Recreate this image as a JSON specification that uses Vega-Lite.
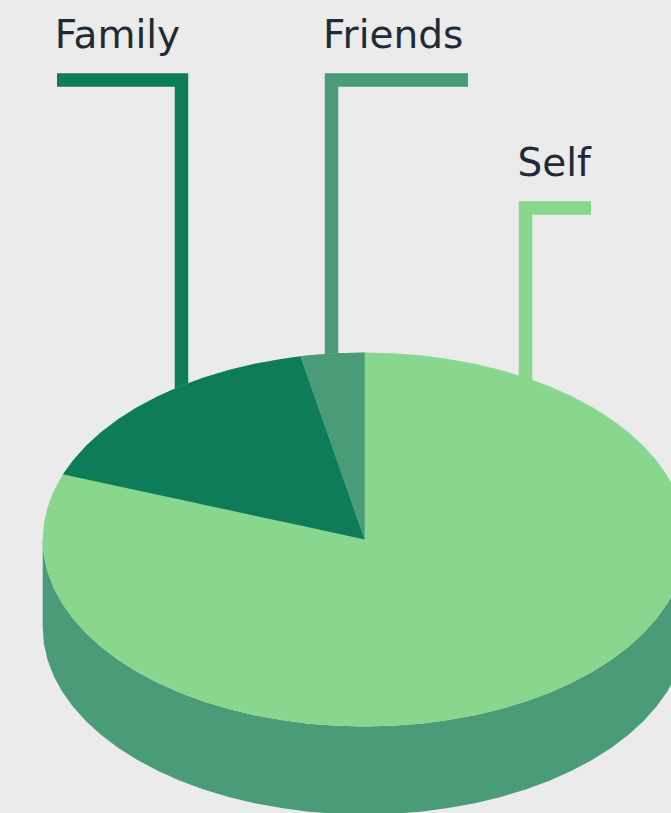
{"$schema":"https://vega.github.io/schema/vega-lite/v6.json","autosize":{"type":"fit","contains":"padding"},"width":671,"height":813,"padding":0,"background":"#EBEBEB","view":{"stroke":null},"datasets":{"leaders":[{"name":"Family","seq":1,"x":-307.7,"y":459.5},{"name":"Family","seq":2,"x":-183.2,"y":459.5},{"name":"Family","seq":3,"x":-183.2,"y":149},{"name":"Friends","seq":1,"x":103.3,"y":459.5},{"name":"Friends","seq":2,"x":-33.2,"y":459.5},{"name":"Friends","seq":3,"x":-33.2,"y":179},{"name":"Self","seq":1,"x":226.3,"y":331.5},{"name":"Self","seq":2,"x":160.8,"y":331.5},{"name":"Self","seq":3,"x":160.8,"y":154}],"labels":[{"name":"Family","x":-310,"y":491.5},{"name":"Friends","x":-41.7,"y":491.5},{"name":"Self","x":152.8,"y":363.5}],"side":[{"x":-322,"y":0,"y2":-88},{"x":-320.8,"y":-16.3,"y2":-104.3},{"x":-317.1,"y":-32.5,"y2":-120.5},{"x":-311,"y":-48.4,"y2":-136.4},{"x":-302.6,"y":-64,"y2":-152},{"x":-291.8,"y":-79,"y2":-167},{"x":-278.9,"y":-93.5,"y2":-181.5},{"x":-263.8,"y":-107.3,"y2":-195.3},{"x":-246.7,"y":-120.2,"y2":-208.2},{"x":-227.7,"y":-132.2,"y2":-220.2},{"x":-207,"y":-143.3,"y2":-231.3},{"x":-184.7,"y":-153.2,"y2":-241.2},{"x":-161,"y":-161.9,"y2":-249.9},{"x":-136.1,"y":-169.5,"y2":-257.5},{"x":-110.1,"y":-175.7,"y2":-263.7},{"x":-83.3,"y":-180.6,"y2":-268.6},{"x":-55.9,"y":-184.2,"y2":-272.2},{"x":-28.1,"y":-186.3,"y2":-274.3},{"x":0,"y":-187,"y2":-275},{"x":28.1,"y":-186.3,"y2":-274.3},{"x":55.9,"y":-184.2,"y2":-272.2},{"x":83.3,"y":-180.6,"y2":-268.6},{"x":110.1,"y":-175.7,"y2":-263.7},{"x":136.1,"y":-169.5,"y2":-257.5},{"x":161,"y":-161.9,"y2":-249.9},{"x":184.7,"y":-153.2,"y2":-241.2},{"x":207,"y":-143.3,"y2":-231.3},{"x":227.7,"y":-132.2,"y2":-220.2},{"x":246.7,"y":-120.2,"y2":-208.2},{"x":263.8,"y":-107.3,"y2":-195.3},{"x":278.9,"y":-93.5,"y2":-181.5},{"x":291.8,"y":-79,"y2":-167},{"x":302.6,"y":-64,"y2":-152},{"x":311,"y":-48.4,"y2":-136.4},{"x":317.1,"y":-32.5,"y2":-120.5},{"x":320.8,"y":-16.3,"y2":-104.3},{"x":322,"y":0,"y2":-88}],"self":[{"x":-322,"y":0,"y2":0},{"x":-320.8,"y":16.3,"y2":-16.3},{"x":-317.1,"y":32.5,"y2":-32.5},{"x":-311,"y":48.4,"y2":-48.4},{"x":-302.6,"y":64,"y2":-64},{"x":-291.8,"y":79,"y2":-79},{"x":-278.9,"y":93.5,"y2":-93.5},{"x":-263.8,"y":107.3,"y2":-107.3},{"x":-246.7,"y":120.2,"y2":-120.2},{"x":-227.7,"y":132.2,"y2":-132.2},{"x":-207,"y":143.3,"y2":-143.3},{"x":-184.7,"y":153.2,"y2":-153.2},{"x":-161,"y":161.9,"y2":-161.9},{"x":-136.1,"y":169.5,"y2":-169.5},{"x":-110.1,"y":175.7,"y2":-175.7},{"x":-83.3,"y":180.6,"y2":-180.6},{"x":-55.9,"y":184.2,"y2":-184.2},{"x":-28.1,"y":186.3,"y2":-186.3},{"x":0,"y":187,"y2":-187},{"x":28.1,"y":186.3,"y2":-186.3},{"x":55.9,"y":184.2,"y2":-184.2},{"x":83.3,"y":180.6,"y2":-180.6},{"x":110.1,"y":175.7,"y2":-175.7},{"x":136.1,"y":169.5,"y2":-169.5},{"x":161,"y":161.9,"y2":-161.9},{"x":184.7,"y":153.2,"y2":-153.2},{"x":207,"y":143.3,"y2":-143.3},{"x":227.7,"y":132.2,"y2":-132.2},{"x":246.7,"y":120.2,"y2":-120.2},{"x":263.8,"y":107.3,"y2":-107.3},{"x":278.9,"y":93.5,"y2":-93.5},{"x":291.8,"y":79,"y2":-79},{"x":302.6,"y":64,"y2":-64},{"x":311,"y":48.4,"y2":-48.4},{"x":317.1,"y":32.5,"y2":-32.5},{"x":320.8,"y":16.3,"y2":-16.3},{"x":322,"y":0,"y2":0}],"family":[{"x":-301.8,"y":65.2,"y2":65.2},{"x":-291.8,"y":79,"y2":63},{"x":-278.9,"y":93.5,"y2":60.3},{"x":-263.8,"y":107.3,"y2":57},{"x":-246.7,"y":120.2,"y2":53.3},{"x":-227.7,"y":132.2,"y2":49.2},{"x":-207,"y":143.3,"y2":44.7},{"x":-184.7,"y":153.2,"y2":39.9},{"x":-161,"y":161.9,"y2":34.8},{"x":-136.1,"y":169.5,"y2":29.4},{"x":-110.1,"y":175.7,"y2":23.8},{"x":-83.3,"y":180.6,"y2":18},{"x":-64.2,"y":183.2,"y2":13.9},{"x":0,"y":0,"y2":0}],"friends":[{"x":-64.2,"y":183.2,"y2":183.2},{"x":-55.9,"y":184.2,"y2":159.5},{"x":-28.1,"y":186.3,"y2":80.2},{"x":0,"y":187,"y2":0}]},"layer":[{"data":{"name":"leaders"},"mark":{"type":"line","strokeWidth":13.5,"strokeCap":"butt","strokeJoin":"miter","clip":true},"encoding":{"x":{"field":"x","type":"quantitative","scale":{"domain":[-364.7,306.3],"nice":false,"zero":false},"axis":null},"y":{"field":"y","type":"quantitative","scale":{"domain":[-273.5,539.5],"nice":false,"zero":false},"axis":null},"order":{"field":"seq"},"color":{"field":"name","type":"nominal","legend":null,"scale":{"domain":["Self","Family","Friends"],"range":["#89D78F","#0E7C58","#4A9B78"]}}}},{"data":{"name":"side"},"mark":{"type":"area","color":"#4A9B78","clip":true},"encoding":{"x":{"field":"x","type":"quantitative"},"y":{"field":"y","type":"quantitative"},"y2":{"field":"y2"}}},{"data":{"name":"self"},"mark":{"type":"area","color":"#89D78F","clip":true},"encoding":{"x":{"field":"x","type":"quantitative"},"y":{"field":"y","type":"quantitative"},"y2":{"field":"y2"}}},{"data":{"name":"family"},"mark":{"type":"area","color":"#0E7C58","clip":true},"encoding":{"x":{"field":"x","type":"quantitative"},"y":{"field":"y","type":"quantitative"},"y2":{"field":"y2"}}},{"data":{"name":"friends"},"mark":{"type":"area","color":"#4A9B78","clip":true},"encoding":{"x":{"field":"x","type":"quantitative"},"y":{"field":"y","type":"quantitative"},"y2":{"field":"y2"}}},{"data":{"name":"labels"},"mark":{"type":"text","align":"left","baseline":"alphabetic","font":"DejaVu Sans","fontSize":39,"color":"#1F2A37"},"encoding":{"x":{"field":"x","type":"quantitative"},"y":{"field":"y","type":"quantitative"},"text":{"field":"name"}}}]}
